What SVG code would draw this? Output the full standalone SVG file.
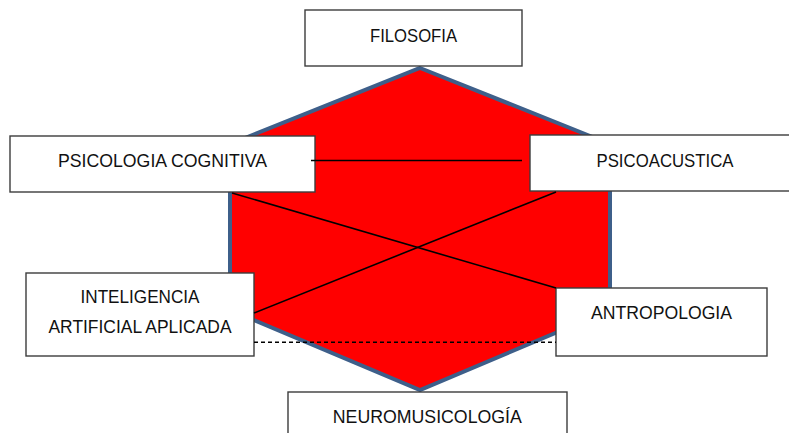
<svg xmlns="http://www.w3.org/2000/svg" width="789" height="433" viewBox="0 0 789 433">
<style>
.bg{fill:#ffffff}
.hex{fill:#ff0000;stroke:#3e5f8a;stroke-width:4;stroke-linejoin:miter}
.box{fill:#ffffff;stroke:#3c3c3c;stroke-width:1.4}
.lbl{font-family:"Liberation Sans",Arial,sans-serif;font-size:17.5px;fill:#111111;text-anchor:middle}
.ln{stroke:#000000;stroke-width:1.6;fill:none}
.dash{stroke-dasharray:4 3}
</style>
<rect class="bg" x="0" y="0" width="789" height="433"/>
<polygon id="hexagon" class="hex" points="420,68 610,144 610,310 420,390 230,310 230,144"/>
<g id="filosofia"><rect class="box" x="305" y="10" width="217" height="56"/><text class="lbl" x="413.5" y="41.5" textLength="87" lengthAdjust="spacingAndGlyphs">FILOSOFIA</text></g>
<g id="psicologia-cognitiva"><rect class="box" x="10" y="136" width="305" height="56"/><text class="lbl" x="162.5" y="166.5" textLength="209" lengthAdjust="spacingAndGlyphs">PSICOLOGIA COGNITIVA</text></g>
<g id="psicoacustica"><rect class="box" x="530" y="135" width="270" height="56"/><text class="lbl" x="665" y="166.5" textLength="137" lengthAdjust="spacingAndGlyphs">PSICOACUSTICA</text></g>
<g id="inteligencia-artificial"><rect class="box" x="26" y="273" width="228" height="83"/><text class="lbl" x="140" y="303.3" textLength="119" lengthAdjust="spacingAndGlyphs">INTELIGENCIA</text><text class="lbl" x="140" y="332.7" textLength="183" lengthAdjust="spacingAndGlyphs">ARTIFICIAL APLICADA</text></g>
<g id="antropologia"><rect class="box" x="556" y="288" width="211" height="68"/><text class="lbl" x="661.5" y="319.3" textLength="141" lengthAdjust="spacingAndGlyphs">ANTROPOLOGIA</text></g>
<g id="neuromusicologia"><rect class="box" x="288" y="392" width="279" height="60"/><text class="lbl" x="427.3" y="423" textLength="189" lengthAdjust="spacingAndGlyphs">NEUROMUSICOLOGÍA</text></g>
<g id="connectors">
<line class="ln" x1="311" y1="160.5" x2="522" y2="160.5"/>
<line class="ln" x1="232" y1="193" x2="556" y2="288"/>
<line class="ln" x1="254" y1="313" x2="556" y2="192"/>
<line class="ln dash" x1="254" y1="342.3" x2="556" y2="342.3"/>
</g>
</svg>
